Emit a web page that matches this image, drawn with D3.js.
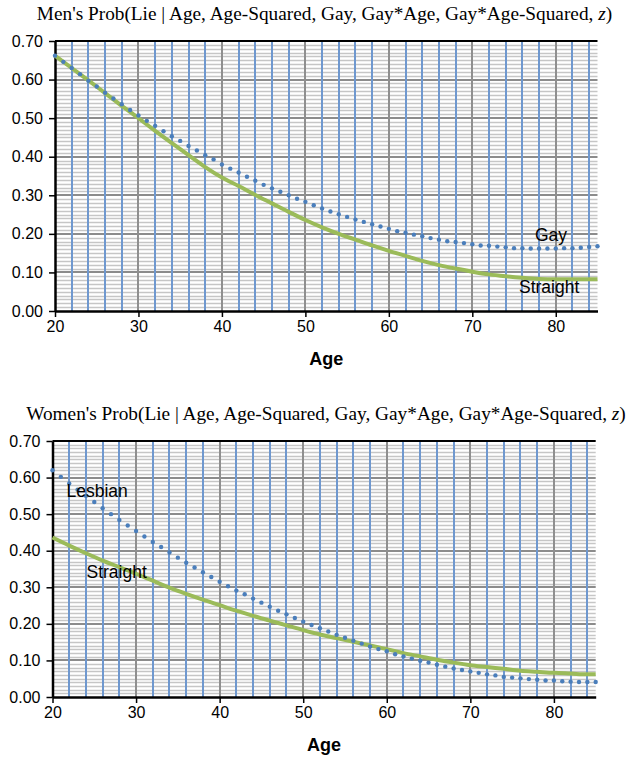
<!DOCTYPE html>
<html>
<head>
<meta charset="utf-8">
<script src="https://cdn.jsdelivr.net/npm/d3@7"></script>
<style>
  body { margin: 0; background: #fff; }
  svg { display: block; }
</style>
</head>
<body>
<svg id="drawspace" width="627" height="761"></svg>
<script>
// ages for the dotted series (one dot a year) and the solid series
const dotAges = d3.range(20, 86);
const lineAges = [20,22,24,26,28,30,32,34,36,38,40,42,44,46,48,50,52,54,56,58,60,62,64,66,68,70,72,74,76,78,80,82,84,85];

// men, gay (dots)
const menGay = [0.662,0.646,0.630,0.614,0.597,0.582,0.566,0.551,0.536,0.521,
  0.507,0.493,0.480,0.466,0.453,0.441,0.428,0.416,0.404,0.393,
  0.380,0.369,0.359,0.348,0.338,0.327,0.318,0.309,0.300,0.291,
  0.283,0.274,0.266,0.258,0.251,0.244,0.237,0.231,0.225,0.219,
  0.213,0.207,0.203,0.198,0.194,0.189,0.185,0.181,0.179,0.176,
  0.173,0.170,0.169,0.167,0.165,0.163,0.163,0.162,0.162,0.162,
  0.162,0.163,0.163,0.164,0.166,0.168];
// men, straight (line)
const menStraight = [0.662,0.630,0.598,0.565,0.532,0.500,0.467,0.435,0.404,0.373,
  0.346,0.324,0.301,0.279,0.257,0.236,0.217,0.200,0.185,0.170,
  0.156,0.143,0.130,0.119,0.110,0.102,0.095,0.090,0.086,0.083,
  0.082,0.082,0.082,0.082];

// women, lesbian (dots)
const womenLesbian = [0.620,0.602,0.584,0.567,0.550,0.533,0.516,0.500,0.484,0.469,
  0.454,0.439,0.424,0.410,0.395,0.381,0.367,0.354,0.341,0.328,
  0.315,0.303,0.291,0.281,0.269,0.258,0.247,0.236,0.226,0.216,
  0.206,0.197,0.188,0.179,0.170,0.162,0.154,0.146,0.138,0.131,
  0.125,0.117,0.111,0.105,0.099,0.094,0.088,0.083,0.078,0.074,
  0.070,0.066,0.062,0.059,0.055,0.053,0.051,0.049,0.047,0.045,
  0.045,0.043,0.042,0.041,0.041,0.041];
// women, straight (line)
const womenStraight = [0.436,0.414,0.393,0.373,0.355,0.337,0.318,0.299,0.282,0.266,
  0.251,0.236,0.222,0.209,0.196,0.183,0.171,0.161,0.151,0.141,
  0.131,0.120,0.111,0.102,0.094,0.087,0.082,0.077,0.072,0.069,
  0.066,0.064,0.062,0.062];

const xTicks = [20,30,40,50,60,70,80];
const yTicks = [0,0.1,0.2,0.3,0.4,0.5,0.6,0.7];

const blue = "#4a7ebb", green = "#9bbb59";
let drawSpace = d3.select("#drawspace");

// one panel of the figure
function panel(cfg) {
  let g = drawSpace.append("g");
  let x = d3.scaleLinear().domain([20, 85]).range([cfg.left, cfg.right]);
  let y = d3.scaleLinear().domain([0, 0.7]).range([cfg.bottom, cfg.top]);

  // title (serif, z in italics)
  let t = g.append("text")
    .attr("x", cfg.titleX).attr("y", cfg.titleY)
    .attr("text-anchor", "middle")
    .attr("fill", "#000")
    .style("font-family", "'Liberation Serif', 'Times New Roman', serif")
    .style("font-size", "19.3px");
  t.append("tspan").text(cfg.title);
  t.append("tspan").style("font-style", "italic").text("z");
  t.append("tspan").text(")");

  // minor horizontal grid every 0.01
  g.append("g").selectAll("line")
    .data(d3.range(1, 70).filter(i => i % 10 != 0).map(i => i / 100))
    .enter().append("line")
    .attr("x1", cfg.left).attr("x2", cfg.right)
    .attr("y1", d => Math.round(y(d)) + 0.5).attr("y2", d => Math.round(y(d)) + 0.5)
    .attr("stroke", "#c6c6c6").attr("stroke-width", 1.3);

  // major horizontal grid
  g.append("g").selectAll("line")
    .data(yTicks.slice(1, -1))
    .enter().append("line")
    .attr("x1", cfg.left).attr("x2", cfg.right)
    .attr("y1", d => Math.round(y(d))).attr("y2", d => Math.round(y(d)))
    .attr("stroke", "#8c8c8c").attr("stroke-width", 2);

  // vertical grid every 2 years: grey on the decades, blue otherwise
  g.append("g").selectAll("line")
    .data(d3.range(22, 85, 2))
    .enter().append("line")
    .attr("x1", d => Math.round(x(d))).attr("x2", d => Math.round(x(d)))
    .attr("y1", cfg.top).attr("y2", cfg.bottom)
    .attr("stroke", d => d % 10 == 0 ? "#8f8f8f" : "#6f98cf")
    .attr("stroke-width", 2);

  // top border
  g.append("line")
    .attr("x1", cfg.left).attr("x2", cfg.right)
    .attr("y1", cfg.top).attr("y2", cfg.top)
    .attr("stroke", "#000").attr("stroke-width", 2);

  // axes
  let yAxis = d3.axisLeft(y).tickValues(yTicks).tickFormat(d3.format(".2f")).tickSize(6).tickSizeOuter(0);
  let xAxis = d3.axisBottom(x).tickValues(xTicks).tickSize(6).tickSizeOuter(0);

  let ya = g.append("g").attr("transform", `translate(${cfg.left},0)`).call(yAxis);
  let xa = g.append("g").attr("transform", `translate(0,${cfg.bottom})`).call(xAxis);
  [ya, xa].forEach(a => {
    a.select(".domain").attr("stroke", "#000").attr("stroke-width", 2.5);
    a.selectAll(".tick line").attr("stroke", "#000").attr("stroke-width", 1.5);
    a.selectAll("text").attr("fill", "#000")
      .style("font-family", "'Liberation Sans', Arial, sans-serif")
      .style("font-size", "16px");
  });
  ya.selectAll("text").attr("x", -12);
  xa.selectAll("text").attr("y", 10);

  g.append("text")
    .attr("x", (cfg.left + cfg.right) / 2).attr("y", cfg.bottom + 54)
    .attr("text-anchor", "middle")
    .style("font-family", "'Liberation Sans', Arial, sans-serif")
    .style("font-size", "18px").style("font-weight", "bold")
    .text("Age");

  // solid series
  let line = d3.line().x((d, i) => x(lineAges[i])).y(d => y(d)).curve(d3.curveMonotoneX);
  g.append("path")
    .attr("d", line(cfg.solid))
    .attr("fill", "none").attr("stroke", green).attr("stroke-width", 4);

  // dotted series
  g.append("g").selectAll("circle")
    .data(cfg.dots)
    .enter().append("circle")
    .attr("cx", (d, i) => x(dotAges[i])).attr("cy", d => y(d))
    .attr("r", 2.2).attr("fill", blue);

  // series labels
  g.selectAll(".lbl")
    .data(cfg.labels)
    .enter().append("text")
    .attr("class", "lbl")
    .attr("x", d => d.x).attr("y", d => d.y)
    .style("font-family", "'Liberation Sans', Arial, sans-serif")
    .style("font-size", "17.5px")
    .text(d => d.text);
}

panel({
  title: "Men's Prob(Lie | Age, Age-Squared, Gay, Gay*Age, Gay*Age-Squared, ",
  titleX: 324.5, titleY: 20, left: 55, right: 597.5, top: 41, bottom: 311,
  dots: menGay, solid: menStraight,
  labels: [{text: "Gay", x: 535, y: 241}, {text: "Straight", x: 519, y: 293}]
});

panel({
  title: "Women's Prob(Lie | Age, Age-Squared, Gay, Gay*Age, Gay*Age-Squared, ",
  titleX: 326, titleY: 420, left: 52.5, right: 595.7, top: 441, bottom: 697,
  dots: womenLesbian, solid: womenStraight,
  labels: [{text: "Lesbian", x: 66.5, y: 497}, {text: "Straight", x: 86.5, y: 578}]
});
</script>
</body>
</html>
